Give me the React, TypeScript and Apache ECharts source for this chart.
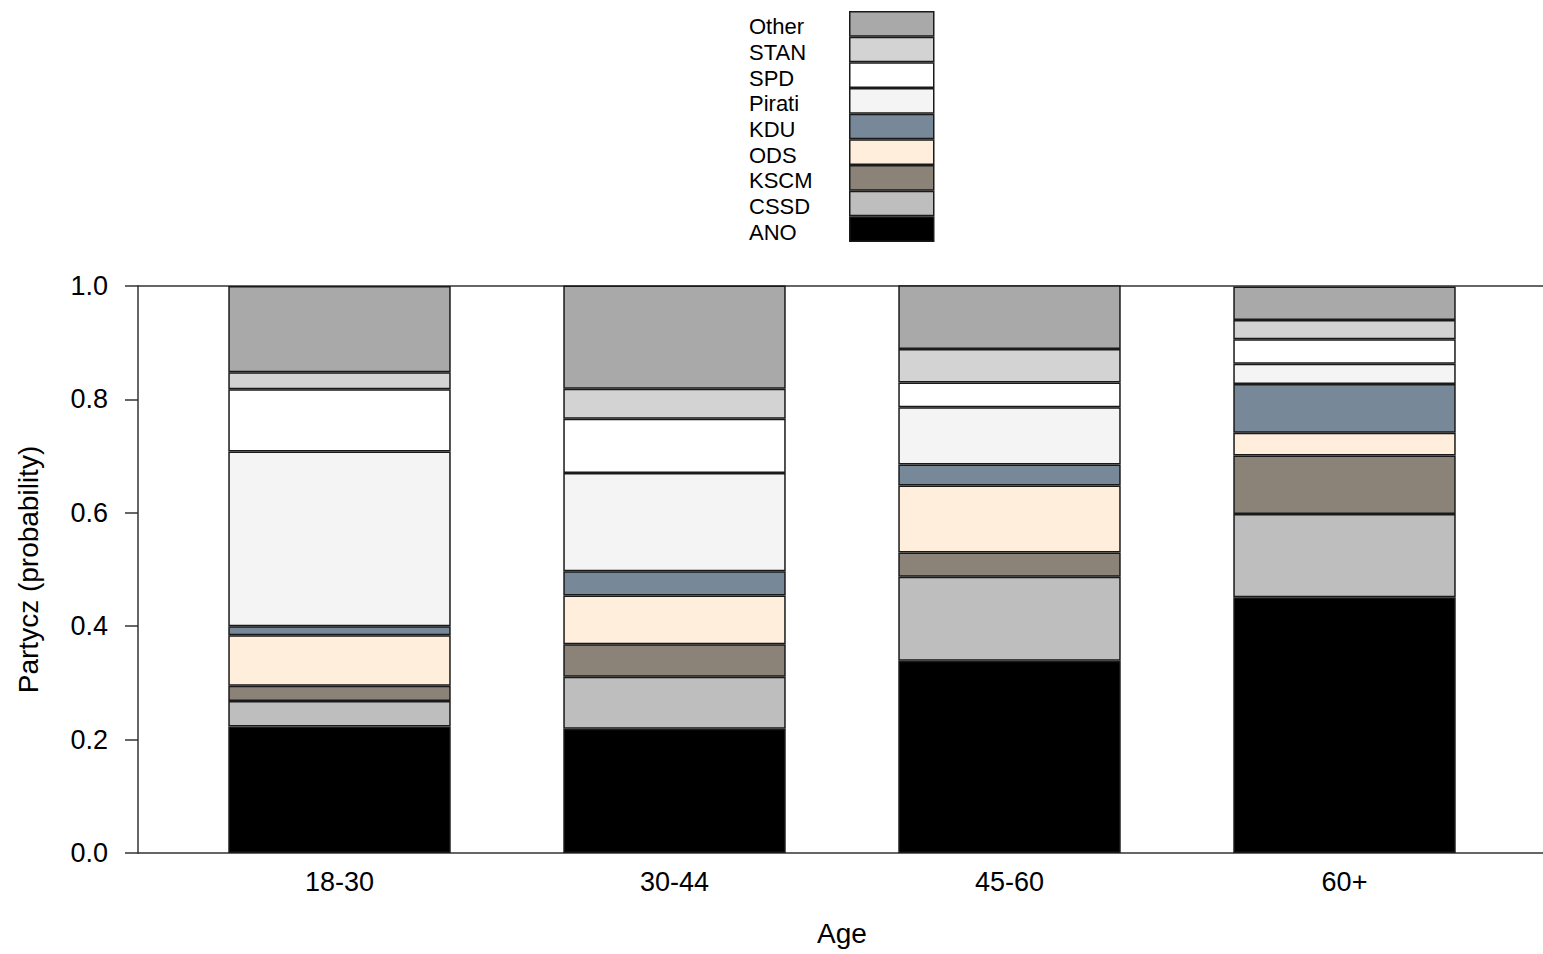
import React, { useEffect, useRef } from "react";
import * as echarts from "echarts";

const ageGroups = ["18-30", "30-44", "45-60", "60+"];
const parties = ["ANO", "CSSD", "KSCM", "ODS", "KDU", "Pirati", "SPD", "STAN", "Other"];
const partyColors = ["#000000", "#BEBEBE", "#8B8378", "#FFEEDB", "#778899", "#F4F4F4", "#FFFFFF", "#D3D3D3", "#A9A9A9"];

const ano = [0.223, 0.219, 0.339, 0.451];
const cssd = [0.045, 0.092, 0.148, 0.147];
const kscm = [0.027, 0.057, 0.043, 0.103];
const ods = [0.089, 0.086, 0.118, 0.040];
const kdu = [0.016, 0.043, 0.037, 0.086];
const pirati = [0.308, 0.173, 0.101, 0.036];
const spd = [0.110, 0.096, 0.044, 0.043];
const stan = [0.030, 0.053, 0.059, 0.034];
const other = [0.152, 0.182, 0.113, 0.059];

const seriesValues = [ano, cssd, kscm, ods, kdu, pirati, spd, stan, other];
const yTicks = { min: 0, max: 1, interval: 0.2 };

const FONT = "'Liberation Sans', Arial, sans-serif";

export default function App() {
  const ref = useRef<HTMLDivElement>(null);

  useEffect(() => {
    if (!ref.current) return;
    const chart = echarts.init(ref.current, undefined, { renderer: "svg" });
    const legendOrder = [...parties].reverse();
    const option: any = {
      animation: false,
      backgroundColor: "#ffffff",
      textStyle: { fontFamily: FONT, color: "#000" },
      legend: [
        {
          orient: "vertical",
          left: 849,
          top: 11,
          padding: 0,
          itemWidth: 84,
          itemHeight: 24.17,
          itemGap: 0,
          icon: "rect",
          data: legendOrder,
          formatter: () => "",
          textStyle: { fontSize: 10 },
          itemStyle: { borderColor: "#1a1a1a", borderWidth: 1.5 },
        },
        {
          orient: "vertical",
          left: 743,
          top: 14,
          padding: 0,
          itemWidth: 1,
          itemHeight: 25.67,
          itemGap: 0,
          icon: "rect",
          data: legendOrder,
          itemStyle: { opacity: 0, borderWidth: 0 },
          textStyle: { fontSize: 22, color: "#000", fontFamily: FONT },
        },
      ],
      grid: [
        { left: 172, right: 31, top: 286, bottom: 101 },
        { left: 138, right: 0, top: 286, bottom: 101 },
      ],
      xAxis: [
        {
          type: "category",
          gridIndex: 0,
          data: ageGroups,
          axisLine: { show: false },
          axisTick: { show: false },
          axisLabel: { fontSize: 27, color: "#000", margin: 15, fontFamily: FONT },
          name: "Age",
          nameLocation: "middle",
          nameGap: 66,
          nameTextStyle: { fontSize: 28, color: "#000", fontFamily: FONT },
        },
        {
          type: "value",
          gridIndex: 1,
          min: 0,
          max: 1,
          position: "bottom",
          axisLine: { show: true, onZero: false, lineStyle: { color: "#333", width: 1.5 } },
          axisTick: { show: false },
          axisLabel: { show: false },
          splitLine: { show: false },
        },
        {
          type: "value",
          gridIndex: 1,
          min: 0,
          max: 1,
          position: "top",
          axisLine: { show: true, onZero: false, lineStyle: { color: "#333", width: 1.5 } },
          axisTick: { show: false },
          axisLabel: { show: false },
          splitLine: { show: false },
        },
      ],
      yAxis: [
        {
          type: "value",
          gridIndex: 0,
          min: yTicks.min,
          max: yTicks.max,
          interval: yTicks.interval,
          show: false,
          splitLine: { show: false },
        },
        {
          type: "value",
          gridIndex: 1,
          min: yTicks.min,
          max: yTicks.max,
          interval: yTicks.interval,
          axisLine: { show: true, lineStyle: { color: "#333", width: 1.5 } },
          axisTick: { show: true, length: 13, lineStyle: { color: "#333", width: 1.5 } },
          axisLabel: {
            fontSize: 27,
            color: "#000",
            margin: 30,
            fontFamily: FONT,
            formatter: (v: number) => v.toFixed(1),
          },
          splitLine: { show: false },
          name: "Partycz (probability)",
          nameLocation: "middle",
          nameGap: 96,
          nameTextStyle: { fontSize: 28, color: "#000", fontFamily: FONT },
        },
      ],
      series: parties.map((p, i) => ({
        name: p,
        type: "bar",
        stack: "total",
        xAxisIndex: 0,
        yAxisIndex: 0,
        barWidth: "66.4%",
        data: seriesValues[i],
        itemStyle: { color: partyColors[i], borderColor: "#1a1a1a", borderWidth: 1.5 },
        emphasis: { disabled: true },
      })),
    };
    chart.setOption(option);
    return () => chart.dispose();
  }, []);

  return (
    <div
      ref={ref}
      style={{ position: "fixed", left: 0, top: 0, width: 1543, height: 954, background: "#fff" }}
    />
  );
}
